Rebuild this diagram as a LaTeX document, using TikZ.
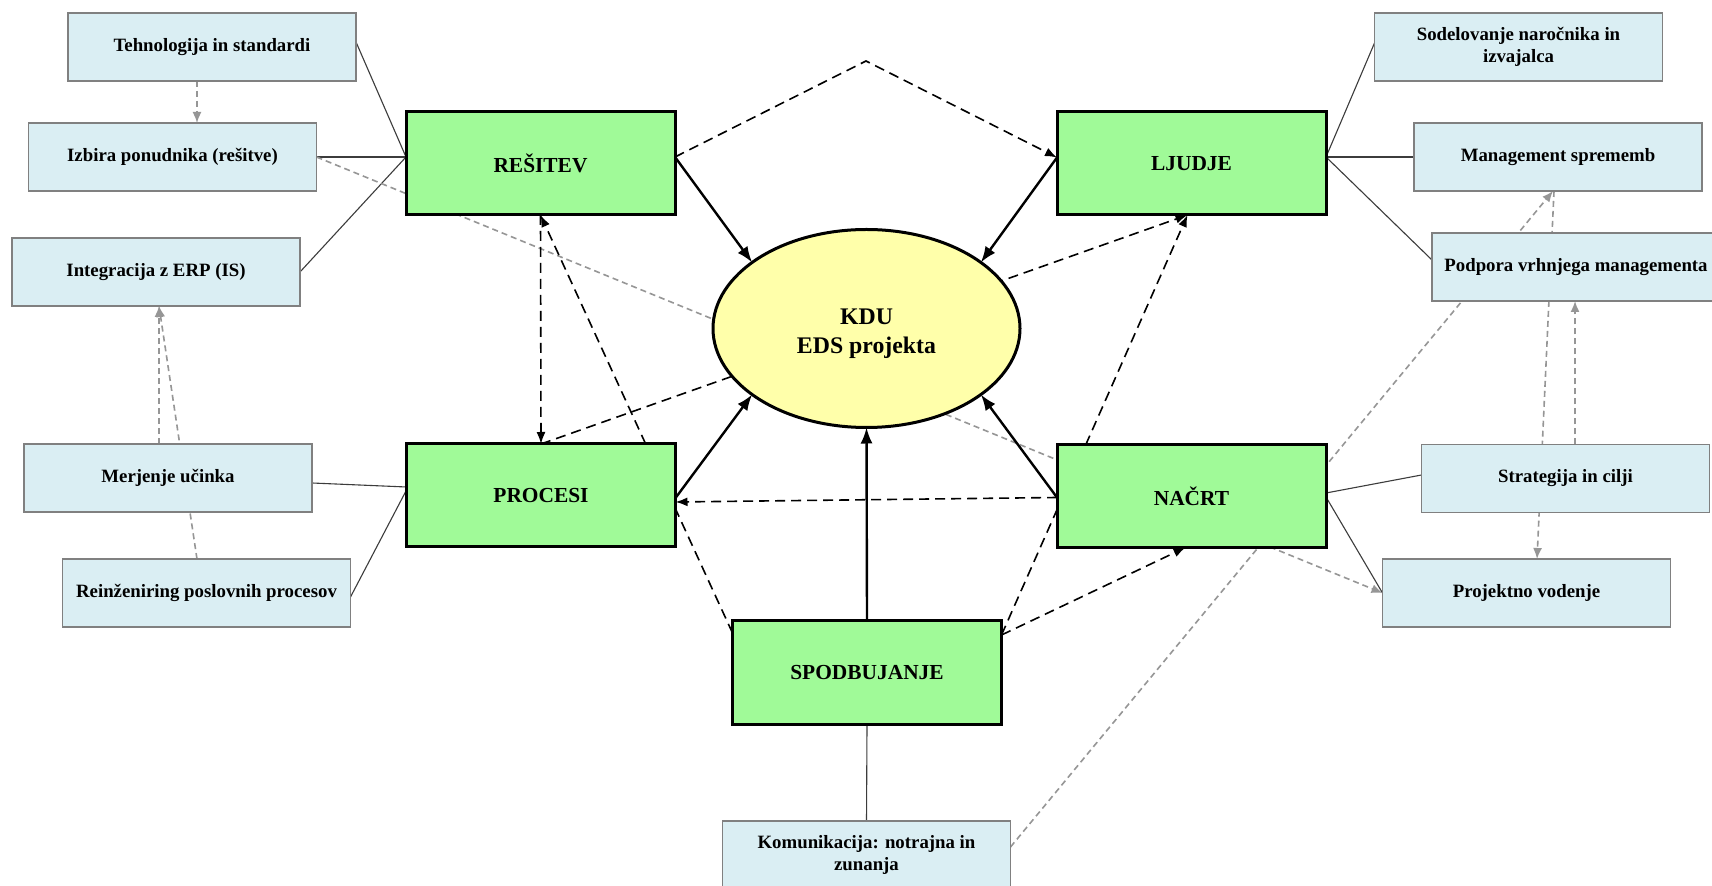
\documentclass[tikz,border=0pt]{standalone}
\usepackage{fontspec}
\setmainfont{Liberation Serif}
\usetikzlibrary{arrows.meta,calc,shapes.geometric}
\definecolor{boxblue}{RGB}{218,238,243}
\definecolor{boxgray}{RGB}{128,128,128}
\definecolor{boxgreen}{RGB}{160,250,152}
\definecolor{coreyellow}{RGB}{255,255,170}
\definecolor{linkgray}{RGB}{150,150,150}
\definecolor{thinline}{RGB}{60,60,60}
\pgfdeclarelayer{background}
\pgfsetlayers{background,main}

\begin{document}
\begin{tikzpicture}[x=0.5pt,y=-0.5pt,
  factor/.style={draw=boxgray, line width=0.9pt, fill=boxblue,
    minimum width=144pt, minimum height=34pt, inner sep=0pt, outer sep=0pt,
    align=center, font=\fontsize{9.4}{11}\selectfont\bfseries},
  pillar/.style={draw=black, line width=1.5pt, fill=boxgreen,
    minimum width=134.5pt, minimum height=51.5pt, inner sep=0pt, outer sep=0pt,
    font=\fontsize{10.7}{13}\selectfont\bfseries},
  core/.style={ellipse, draw=black, line width=1.5pt, fill=coreyellow,
    minimum width=153.5pt, minimum height=99pt, inner sep=0pt, outer sep=0pt},
  coretext/.style={align=center, inner sep=0pt, font=\fontsize{11.9}{14.5}\selectfont\bfseries},
  thinlink/.style={draw=thinline, line width=0.55pt},
  solidarrow/.style={draw=black, line width=1.2pt, -{Latex[length=8pt,width=6pt]}},
  dasharrow/.style={draw=black, line width=0.8pt, dash pattern=on 5pt off 3pt,
    -{Latex[length=6pt,width=4.5pt]}},
  grayarrow/.style={draw=linkgray, line width=0.8pt, dash pattern=on 3pt off 2pt,
    -{Latex[length=5.5pt,width=4.5pt]}},
]
\useasboundingbox (0,0) rectangle (1712,886);

% critical success factors (light blue)
\node[factor] (tech)   at (212,47)      {Tehnologija in standardi};
\node[factor] (izbira) at (172.5,157)   {Izbira ponudnika (rešitve)};
\node[factor] (integ)  at (156,272)     {Integracija z ERP (IS)};
\node[factor] (merj)   at (168,478)     {Merjenje učinka};
\node[factor] (reinz)  at (206.5,593)   {Reinženiring poslovnih procesov};
\node[factor] (sodel)  at (1518.5,47)   {Sodelovanje naročnika in\\izvajalca};
\node[factor] (mgmt)   at (1558,157)    {Management sprememb};
\node[factor] (podp)   at (1576,267)    {Podpora vrhnjega managementa};
\node[factor] (strat)  at (1565.5,478.5){Strategija in cilji};
\node[factor] (projv)  at (1526.5,593)  {Projektno vodenje};
\node[factor] (komun)  at (866.5,855)   {Komunikacija: notrajna in\\zunanja};

% five pillars (green)
\node[pillar] (resitev) at (540.5,163.5)  {REŠITEV};
\node[pillar] (ljudje)  at (1191.5,163.5) {LJUDJE};
\node[pillar] (procesi) at (541,495.5)    {PROCESI};
\node[pillar] (nacrt)   at (1191.5,496)   {NAČRT};
\node[pillar] (spodb)   at (867,672.5)    {SPODBUJANJE};

% centre
\node[core] (kdu) at (866.5,328.5) {};
\node[coretext] (kdutext) at ($(kdu.center)+(0,5)$) {KDU\\EDS projekta};

\coordinate (apex) at ($(resitev.north)!0.5!(ljudje.north)+(0,-51)$);

\begin{pgfonlayer}{background}
\fill[white] (0,0) rectangle (1712,886);

% factor-to-pillar links
\draw[thinlink] ($(resitev.west)+(0,-6.5)$) -- ($(tech.east)+(0,-5)$);
\draw[thinlink] ($(resitev.west)+(0,-6.5)$) -- (izbira.east);
\draw[thinlink] ($(resitev.west)+(0,-6.5)$) -- (integ.east);
\draw[thinlink] ($(procesi.west)+(0,-8.5)$) -- ($(merj.east)+(0,5)$);
\draw[thinlink] ($(procesi.west)+(0,-5.5)$) -- ($(reinz.east)+(0,4)$);
\draw[thinlink] ($(ljudje.east)+(0,-6.5)$) -- ($(sodel.west)+(0,-4)$);
\draw[thinlink] ($(ljudje.east)+(0,-6.5)$) -- (mgmt.west);
\draw[thinlink] ($(ljudje.east)+(0,-6.5)$) -- ($(podp.west)+(0,-7)$);
\draw[thinlink] ($(nacrt.east)+(0,-3)$) -- ($(strat.west)+(0,-3.5)$);
\draw[thinlink] ($(nacrt.east)+(0,1)$) -- (projv.west);
\draw[thinlink] (spodb.south) -- (komun.north);

% dependencies between factors
\draw[grayarrow] ($(tech.south)+(-15,0)$) -- ($(izbira.north)+(24.5,0)$);
\draw[grayarrow] (izbira.east) -- (projv.west);
\draw[grayarrow] ($(merj.north)+(-9,0)$) -- ($(integ.south)+(3,0)$);
\draw[grayarrow] ($(reinz.north)+(-9.5,0)$) -- ($(integ.south)+(3,0)$);
\draw[grayarrow] ($(komun.east)+(0,-8)$) -- ($(mgmt.south)+(-5,0)$);
\draw[grayarrow] ($(mgmt.south)+(-4,0)$) -- ($(projv.north)+(10.5,0)$);
\draw[grayarrow] ($(strat.north)+(9.5,0)$) -- ($(podp.south)+(-1,0)$);

% relations between pillars
\draw[dasharrow] ($(resitev.east)+(0,-6.5)$) -- (apex) -- ($(ljudje.west)+(0,-6)$);
\draw[dasharrow] (resitev.south) -- (procesi.north);
\draw[dasharrow] ($(spodb.north west)+(0,12)$) -- (resitev.south);
\draw[dasharrow] (procesi.north) -- ($(ljudje.south)+(-4,0)$);
\draw[dasharrow] ($(spodb.north east)+(0,14)$) -- ($(ljudje.south)+(-4,0)$);
\draw[dasharrow] ($(spodb.north east)+(0,14)$) -- ($(nacrt.south)+(-6,0)$);
\draw[dasharrow] ($(nacrt.west)+(0,1.5)$) -- ($(procesi.east)+(0,6.5)$);

% pillars feeding the centre
\draw[solidarrow] ($(resitev.east)+(0,-6.5)$) -- (kdu.150);
\draw[solidarrow] ($(ljudje.west)+(0,-6)$) -- (kdu.30);
\draw[solidarrow] ($(procesi.east)+(0,2.5)$) -- (kdu.210);
\draw[solidarrow] ($(nacrt.west)+(0,1.5)$) -- (kdu.330);
\draw[solidarrow] (spodb.north) -- (kdu.south);
\end{pgfonlayer}
\end{tikzpicture}
\end{document}
